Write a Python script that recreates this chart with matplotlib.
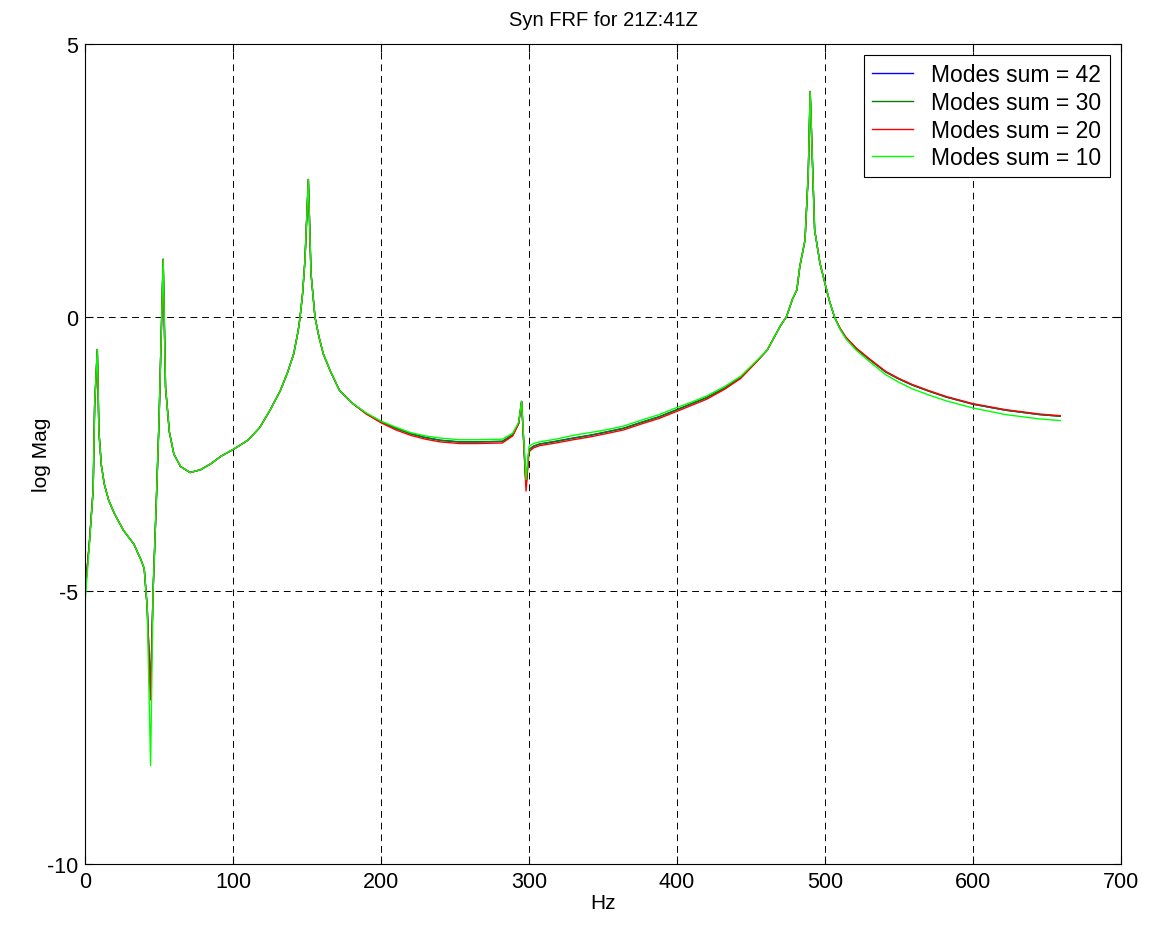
import matplotlib
matplotlib.use("Agg")
import matplotlib.pyplot as plt

plt.rcParams["font.family"] = ["Liberation Sans", "DejaVu Sans"]
plt.rcParams["axes.unicode_minus"] = False

# frequency points (Hz)
freq = [0, 3, 5.5, 6.5, 8.3, 9.4, 11, 13, 16, 20,
        26, 33, 38, 40, 42, 44.3, 46, 48, 50, 52.8,
        54.4, 57, 60, 64.5, 71, 78, 85, 92, 100, 110,
        118, 125, 132, 137, 141, 144, 145.3, 147, 148.6, 150.9,
        152.7, 155.4, 158, 161, 166, 172, 181, 190, 200, 210,
        220, 230, 240, 253, 265, 282, 289, 293, 295, 298,
        300, 303, 307, 318, 330, 341, 352, 364, 375, 388,
        400, 410, 420, 432, 443, 454, 461, 465, 470, 474,
        478, 481, 483, 486.5, 488.7, 490, 493, 496.6, 500, 503,
        506.5, 510, 514, 521, 530, 541, 550, 559, 570, 582,
        600, 622, 645, 659]

modes42 = [-5.05, -4.1, -3.15, -1.6, -0.59, -2.1, -2.7, -3.05, -3.35, -3.6,
           -3.9, -4.15, -4.45, -4.6, -5.3, -6.85, -5.0, -3.5, -1.9, 1.06,
           -1.28, -2.1, -2.5, -2.73, -2.84, -2.79, -2.68, -2.54, -2.42, -2.25,
           -2.02, -1.70, -1.34, -1.0, -0.67, -0.25, 0.0, 0.43, 1.04, 2.52,
           0.8, 0.0, -0.35, -0.67, -1.0, -1.34, -1.58, -1.76, -1.91, -2.03,
           -2.13, -2.2, -2.25, -2.28, -2.28, -2.27, -2.15, -1.94, -1.54, -3.08,
           -2.42, -2.36, -2.32, -2.27, -2.21, -2.16, -2.10, -2.03, -1.93, -1.82,
           -1.69, -1.58, -1.47, -1.30, -1.10, -0.80, -0.6, -0.40, -0.15, 0.01,
           0.33, 0.5, 0.93, 1.41, 2.63, 4.13, 1.6, 0.99, 0.62, 0.3,
           0.0, -0.2, -0.37, -0.57, -0.77, -1.0, -1.13, -1.24, -1.35, -1.46,
           -1.59, -1.70, -1.78, -1.81]

modes30 = [-5.05, -4.1, -3.15, -1.6, -0.59, -2.1, -2.7, -3.05, -3.35, -3.6,
           -3.9, -4.15, -4.45, -4.6, -5.3, -6.85, -5.0, -3.5, -1.9, 1.06,
           -1.28, -2.1, -2.5, -2.73, -2.84, -2.79, -2.68, -2.54, -2.42, -2.25,
           -2.02, -1.70, -1.34, -1.0, -0.67, -0.25, 0.0, 0.43, 1.04, 2.52,
           0.8, 0.0, -0.35, -0.67, -1.0, -1.34, -1.58, -1.76, -1.91, -2.03,
           -2.13, -2.2, -2.25, -2.28, -2.28, -2.27, -2.15, -1.94, -1.54, -3.08,
           -2.42, -2.36, -2.32, -2.27, -2.21, -2.16, -2.10, -2.03, -1.93, -1.82,
           -1.69, -1.58, -1.47, -1.30, -1.10, -0.80, -0.6, -0.40, -0.15, 0.01,
           0.33, 0.5, 0.93, 1.41, 2.63, 4.13, 1.6, 0.99, 0.62, 0.3,
           0.0, -0.2, -0.37, -0.57, -0.77, -1.0, -1.13, -1.24, -1.35, -1.46,
           -1.59, -1.70, -1.78, -1.81]

modes20 = [-5.05, -4.1, -3.15, -1.6, -0.59, -2.1, -2.7, -3.05, -3.35, -3.6,
           -3.9, -4.15, -4.45, -4.6, -5.3, -7.0, -5.0, -3.5, -1.9, 1.06,
           -1.28, -2.1, -2.5, -2.73, -2.84, -2.79, -2.68, -2.54, -2.42, -2.25,
           -2.02, -1.70, -1.34, -1.0, -0.67, -0.25, 0.0, 0.43, 1.04, 2.52,
           0.8, 0.0, -0.35, -0.67, -1.0, -1.34, -1.58, -1.77, -1.93, -2.06,
           -2.16, -2.23, -2.28, -2.31, -2.31, -2.30, -2.17, -1.95, -1.54, -3.18,
           -2.46, -2.39, -2.35, -2.30, -2.24, -2.19, -2.13, -2.06, -1.96, -1.85,
           -1.72, -1.61, -1.50, -1.32, -1.12, -0.81, -0.6, -0.40, -0.15, 0.01,
           0.33, 0.5, 0.93, 1.41, 2.63, 4.13, 1.6, 0.99, 0.62, 0.3,
           0.0, -0.19, -0.36, -0.56, -0.76, -0.99, -1.12, -1.23, -1.34, -1.45,
           -1.58, -1.69, -1.77, -1.80]

modes10 = [-5.24, -4.15, -3.15, -1.6, -0.59, -2.1, -2.7, -3.05, -3.35, -3.6,
           -3.9, -4.15, -4.45, -4.6, -5.3, -8.2, -5.0, -3.5, -1.9, 1.06,
           -1.28, -2.1, -2.5, -2.73, -2.84, -2.79, -2.68, -2.54, -2.42, -2.25,
           -2.02, -1.70, -1.34, -1.0, -0.67, -0.25, 0.0, 0.43, 1.04, 2.52,
           0.8, 0.0, -0.35, -0.67, -1.0, -1.34, -1.58, -1.75, -1.90, -2.01,
           -2.11, -2.17, -2.21, -2.24, -2.24, -2.23, -2.12, -1.92, -1.54, -2.97,
           -2.36, -2.31, -2.28, -2.23, -2.16, -2.11, -2.06, -1.99, -1.89, -1.78,
           -1.65, -1.55, -1.44, -1.27, -1.08, -0.79, -0.6, -0.40, -0.15, 0.01,
           0.33, 0.5, 0.93, 1.41, 2.63, 4.13, 1.6, 0.99, 0.62, 0.3,
           0.0, -0.21, -0.39, -0.60, -0.81, -1.05, -1.19, -1.31, -1.42, -1.53,
           -1.66, -1.78, -1.86, -1.89]

series = [
    ("Modes sum = 42", modes42, "#0000ff"),
    ("Modes sum = 30", modes30, "#008000"),
    ("Modes sum = 20", modes20, "#ff0000"),
    ("Modes sum = 10", modes10, "#00ff00"),
]

fig = plt.figure(figsize=(11.49, 9.29), dpi=100)
ax = fig.add_axes([0.074, 0.069, 0.9016, 0.8826])

for label, vals, color in series:
    ax.plot(freq, vals, color=color, lw=1.0, label=label)

ax.set_xlim(0, 700)
ax.set_ylim(-10, 5)
ax.set_xticks(range(0, 701, 100))
ax.set_yticks([-10, -5, 0, 5])
ax.grid(True, color="black", linestyle=(0, (7, 5)), linewidth=0.7)
ax.tick_params(direction="in", length=6, top=True, right=True, labelsize=15.5, pad=5)
for s in ax.spines.values():
    s.set_linewidth(0.8)

ax.set_title("Syn FRF for 21Z:41Z", fontsize=14.5, pad=14)
ax.set_xlabel("Hz", fontsize=15, labelpad=1)
ax.set_ylabel("log Mag", fontsize=15, labelpad=-3)

leg = ax.legend(loc="upper right", fontsize=16.5, fancybox=False, framealpha=1,
                edgecolor="black", handlelength=1.8, labelspacing=0.2,
                borderaxespad=0.5, handletextpad=0.8, borderpad=0.35)
leg.get_frame().set_linewidth(0.8)

plt.savefig("out.png", dpi=100)
